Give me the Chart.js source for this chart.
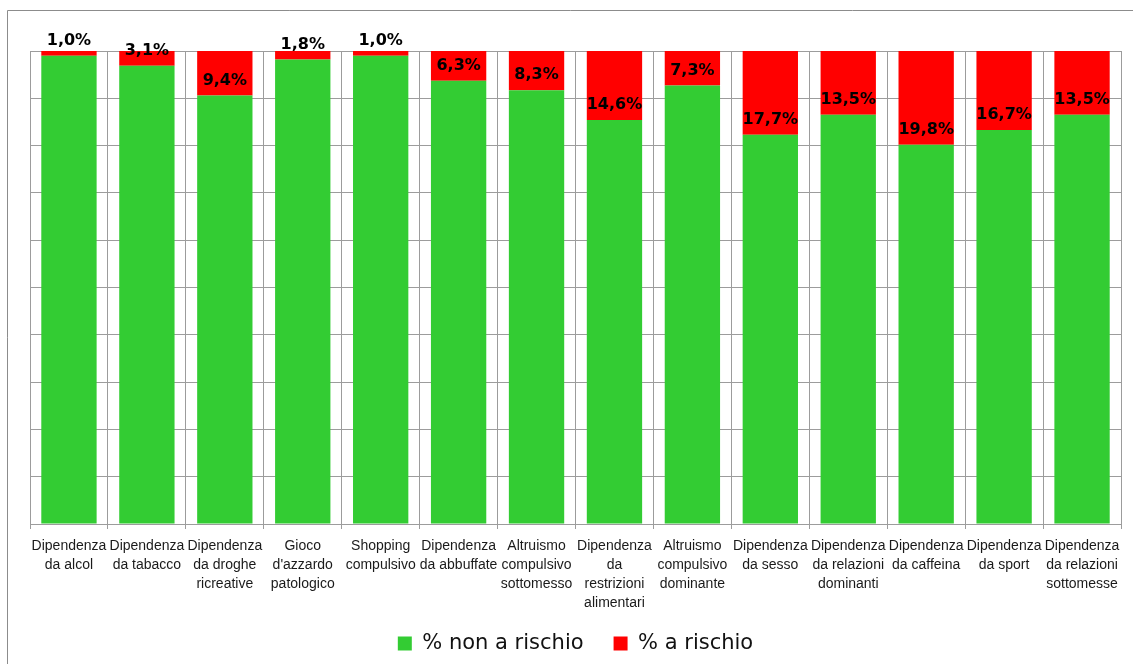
<!DOCTYPE html>
<html>
<head>
<meta charset="utf-8">
<script src="https://cdn.jsdelivr.net/npm/chart.js@4/dist/chart.umd.min.js"></script>
<style>
  html, body { margin: 0; padding: 0; background: #fff; }
  #wrap { position: relative; width: 1133px; height: 664px; }
</style>
</head>
<body>
<div id="wrap"><canvas id="c" width="1133" height="664"></canvas></div>
<script>
// Categorie (etichette su più righe)
const categories = [
  ["Dipendenza", "da alcol"],
  ["Dipendenza", "da tabacco"],
  ["Dipendenza", "da droghe", "ricreative"],
  ["Gioco", "d'azzardo", "patologico"],
  ["Shopping", "compulsivo"],
  ["Dipendenza", "da abbuffate"],
  ["Altruismo", "compulsivo", "sottomesso"],
  ["Dipendenza", "da", "restrizioni", "alimentari"],
  ["Altruismo", "compulsivo", "dominante"],
  ["Dipendenza", "da sesso"],
  ["Dipendenza", "da relazioni", "dominanti"],
  ["Dipendenza", "da caffeina"],
  ["Dipendenza", "da sport"],
  ["Dipendenza", "da relazioni", "sottomesse"]
];

// Percentuali per serie
const nonARischio = [99.0, 96.9, 90.6, 98.2, 99.0, 93.7, 91.7, 85.4, 92.7, 82.3, 86.5, 80.2, 83.3, 86.5];
const aRischio    = [1.0, 3.1, 9.4, 1.8, 1.0, 6.3, 8.3, 14.6, 7.3, 17.7, 13.5, 19.8, 16.7, 13.5];

const seriesNames = ["% non a rischio", "% a rischio"];
const yTicks = { min: 0, max: 100, step: 10 };

const GRID = '#9c9c9c';

// Cornice esterna del grafico
const framePlugin = {
  id: 'frame',
  beforeDraw(chart) {
    const ctx = chart.ctx;
    ctx.save();
    ctx.fillStyle = '#fff';
    ctx.fillRect(0, 0, chart.width, chart.height);
    ctx.strokeStyle = '#8c8c8c';
    ctx.lineWidth = 1;
    ctx.beginPath();
    ctx.moveTo(7.5, chart.height + 5);
    ctx.lineTo(7.5, 10.5);
    ctx.lineTo(chart.width + 5, 10.5);
    ctx.stroke();
    ctx.restore();
  }
};

// Lascia spazio alle etichette dell'asse x su quattro righe (evita il ritaglio)
const labelRoom = {
  id: 'labelRoom',
  afterLayout(chart) {
    const x = chart.scales.x;
    x.bottom = chart.height;
  }
};

// Etichette dei valori "a rischio" sopra il confine tra le due serie
const valueLabels = {
  id: 'valueLabels',
  afterDatasetsDraw(chart) {
    const ctx = chart.ctx;
    const meta = chart.getDatasetMeta(1);
    ctx.save();
    ctx.font = 'bold 16px "DejaVu Sans", Verdana, sans-serif';
    ctx.fillStyle = '#000';
    ctx.textAlign = 'center';
    ctx.textBaseline = 'middle';
    meta.data.forEach((bar, i) => {
      const v = aRischio[i];
      const txt = v.toFixed(1).replace('.', ',') + '%';
      ctx.fillText(txt, bar.x, bar.base - 15);
    });
    ctx.restore();
  }
};

new Chart(document.getElementById('c'), {
  type: 'bar',
  data: {
    labels: categories,
    datasets: [
      { label: seriesNames[0], data: nonARischio, backgroundColor: '#33CC33', borderWidth: 0 },
      { label: seriesNames[1], data: aRischio, backgroundColor: '#FF0000', borderWidth: 0 }
    ]
  },
  options: {
    responsive: false,
    animation: false,
    devicePixelRatio: 1,
    layout: { padding: { left: 30, right: 12, top: 51, bottom: 0 } },
    datasets: { bar: { categoryPercentage: 1.0, barPercentage: 0.71 } },
    scales: {
      x: {
        stacked: true,
        grid: { color: GRID, offset: true, drawTicks: true, tickLength: 5, tickColor: GRID },
        border: { color: GRID },
        ticks: {
          autoSkip: false, maxRotation: 0, minRotation: 0, padding: 8,
          color: '#1a1a1a',
          font: { family: '"Liberation Sans", Arial, sans-serif', size: 14, lineHeight: 1.36 }
        },
        afterFit(s) { s.height = 79; }
      },
      y: {
        stacked: true,
        min: yTicks.min, max: yTicks.max,
        ticks: { display: false, stepSize: yTicks.step },
        grid: { color: GRID, drawTicks: false },
        border: { color: GRID },
        afterFit(s) { s.width = 0; }
      }
    },
    plugins: {
      legend: {
        position: 'bottom',
        labels: {
          boxWidth: 14, boxHeight: 14, padding: 30,
          color: '#111',
          font: { family: '"DejaVu Sans", Verdana, sans-serif', size: 21 }
        }
      },
      tooltip: { enabled: false }
    }
  },
  plugins: [framePlugin, labelRoom, valueLabels]
});
</script>
</body>
</html>
